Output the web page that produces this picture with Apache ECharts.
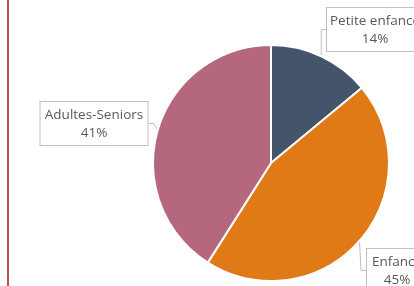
<!DOCTYPE html>
<html>
<head>
<meta charset="utf-8">
<script src="https://cdn.jsdelivr.net/npm/echarts@6/dist/echarts.min.js"></script>
<style>
  html, body { margin: 0; padding: 0; background: #fff; }
  #pie { width: 414px; height: 286px; }
</style>
</head>
<body>
<div id="pie"></div>
<script>
var categories = ['Petite enfance', 'Enfance', 'Adultes-Seniors'];
var values = [14, 45, 41];
var colors = ['#44546A', '#E07A17', '#B5677D'];

var myChart = echarts.init(document.getElementById('pie'));
// centre haut des boites d'etiquettes + largeur
var labelPos = [
  { x: 375, y: 8, w: 88 },
  { x: 397, y: 249, w: 52 },
  { x: 94, y: 102, w: 99 }
];

myChart.setOption({
  animation: false,
  graphic: [{
    type: 'line',
    shape: { x1: 8, y1: 0, x2: 8, y2: 286 },
    style: { stroke: '#C0504D', lineWidth: 2 }
  }],
  series: [{
    type: 'pie',
    center: [271, 163],
    radius: 118,
    startAngle: 90,
    clockwise: true,
    data: categories.map(function (c, i) {
      return {
        name: c,
        value: values[i],
        itemStyle: { color: colors[i] },
        label: { width: labelPos[i].w }
      };
    }),
    itemStyle: { borderColor: '#fff', borderWidth: 2 },
    label: {
      show: true,
      formatter: '{b}\n{d}%',
      color: '#595959',
      fontSize: 13.5,
      fontFamily: 'Open Sans',
      lineHeight: 18,
      overflow: 'none',
      backgroundColor: '#fff',
      borderColor: '#BFBFBF',
      borderWidth: 1,
      padding: [4, 4, 3, 4]
    },
    labelLine: {
      show: true,
      length: 5,
      length2: 5,
      lineStyle: { color: '#BFBFBF', width: 1 }
    },
    labelLayout: function (p) {
      var pos = labelPos[p.dataIndex];
      return { x: pos.x, y: pos.y, align: 'center', verticalAlign: 'top' };
    }
  }]
});
</script>
</body>
</html>
